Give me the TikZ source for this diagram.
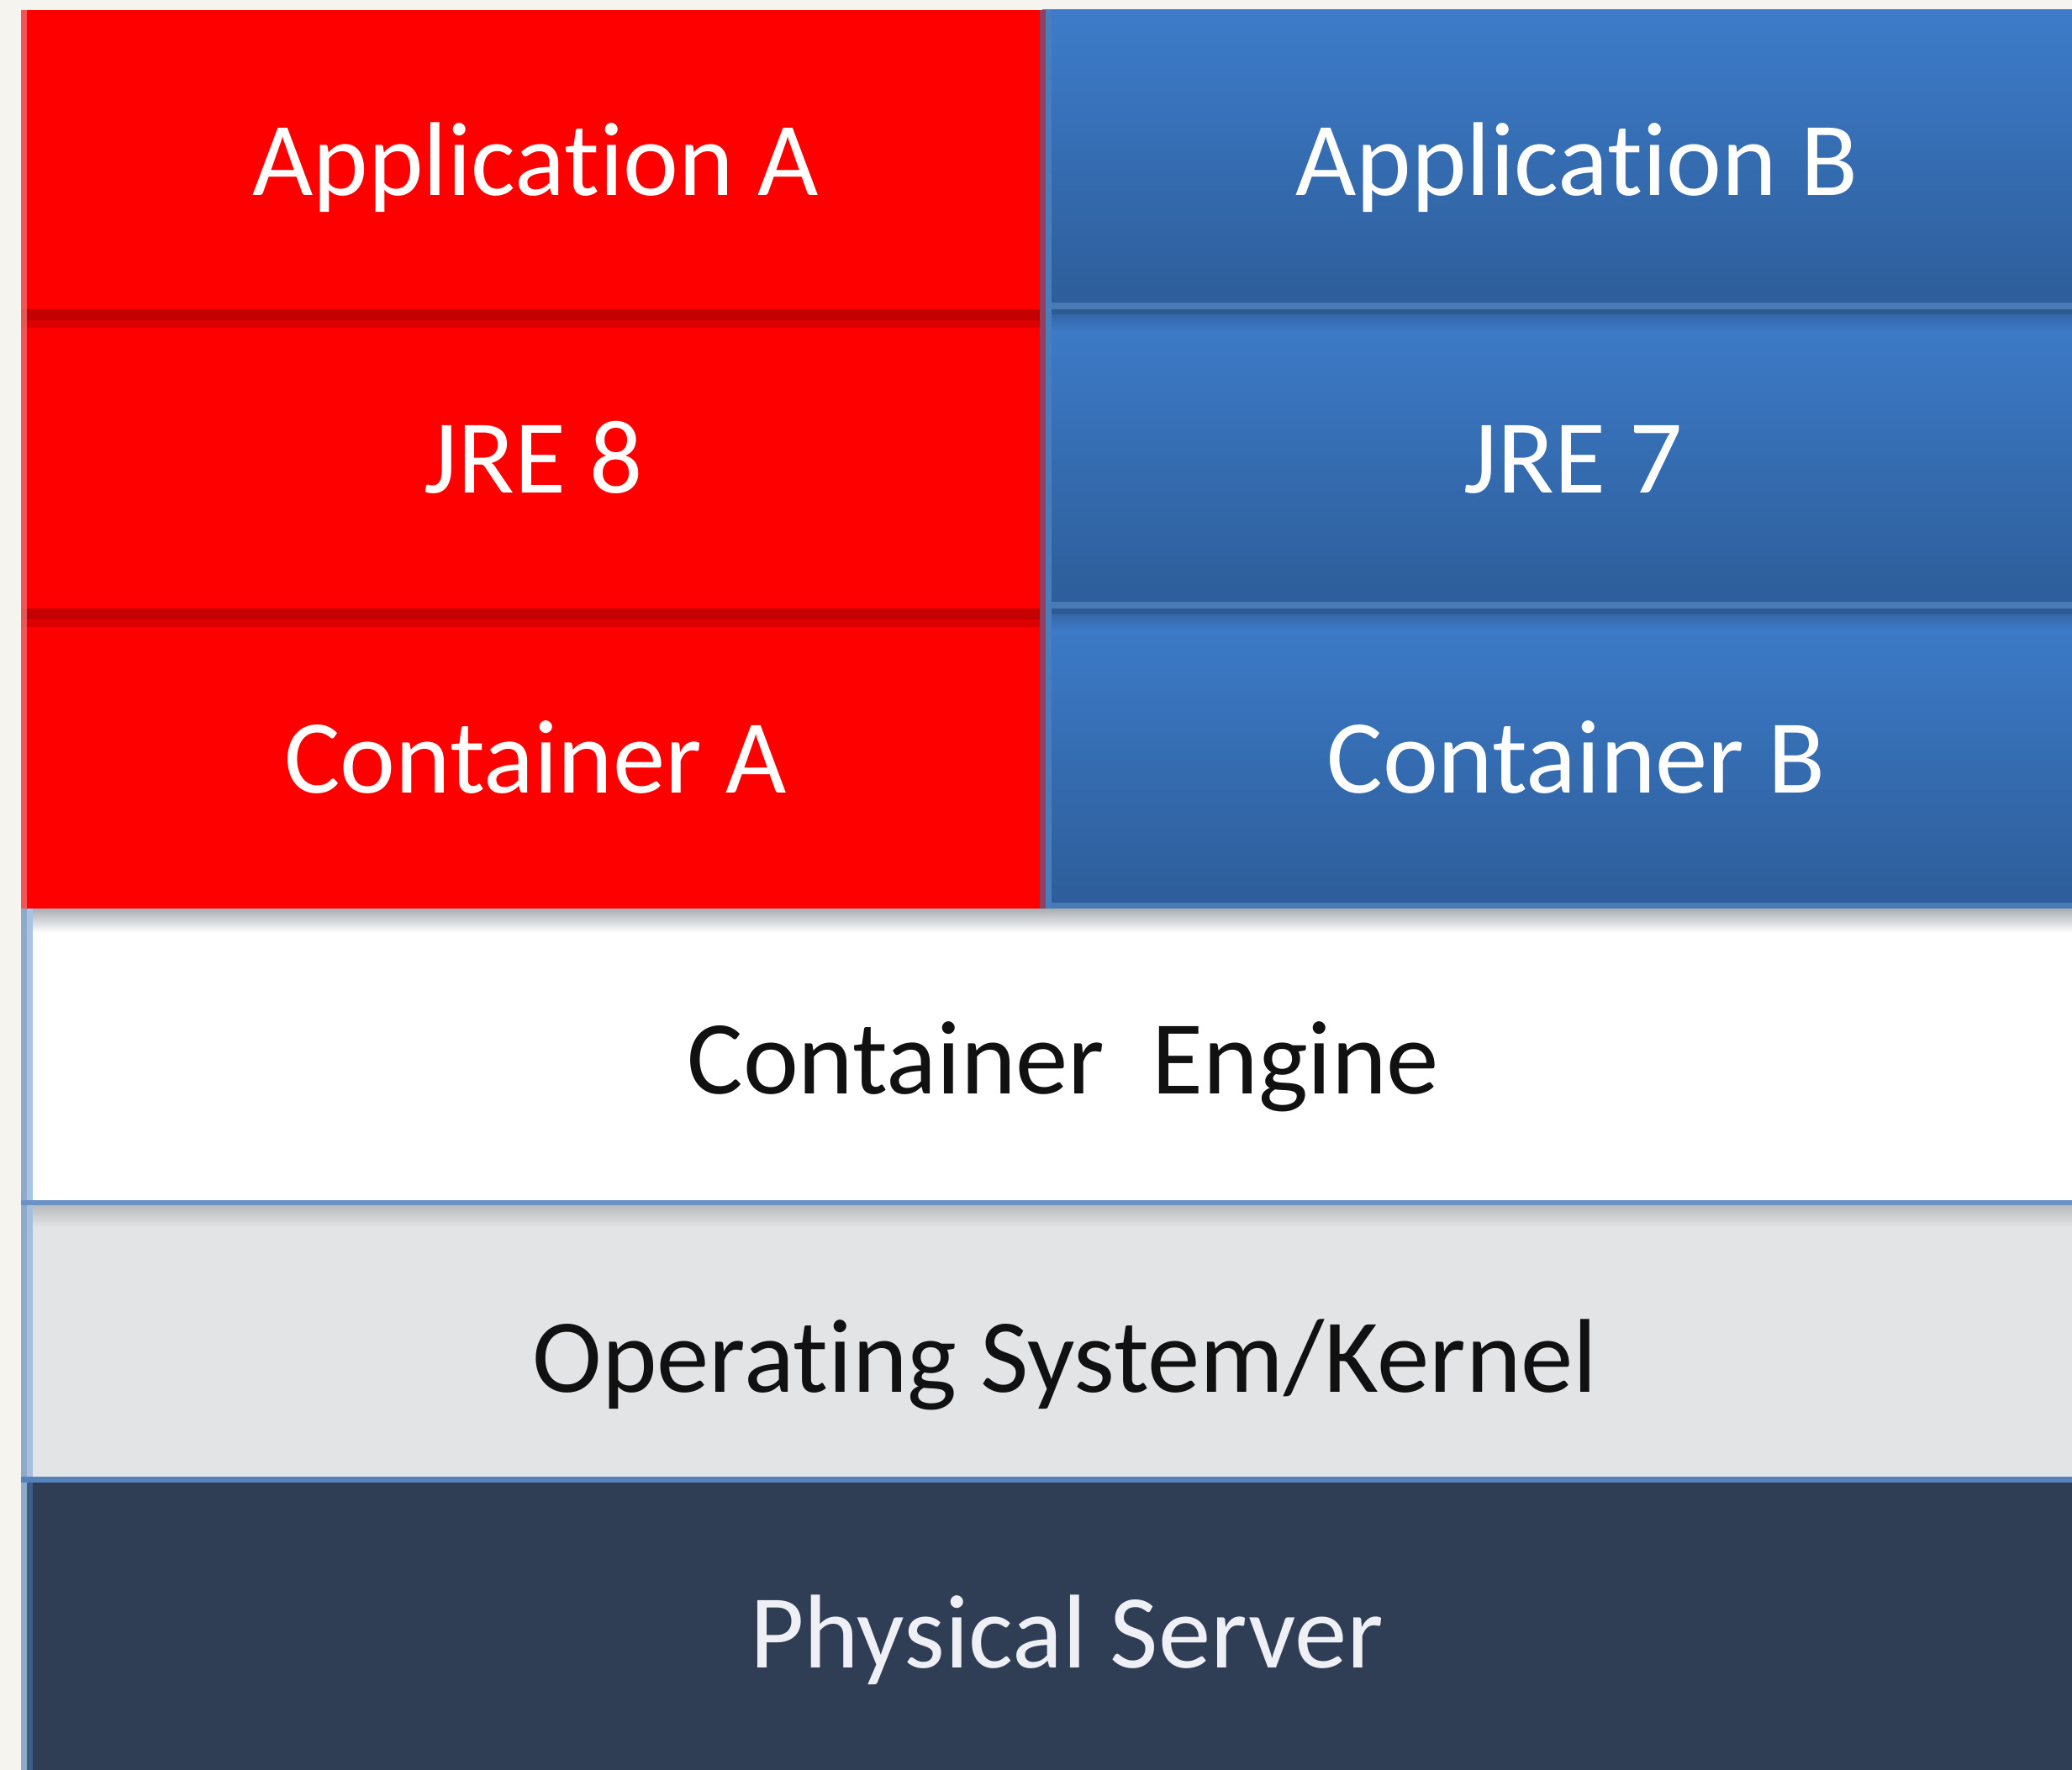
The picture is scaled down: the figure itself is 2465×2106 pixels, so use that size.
\documentclass[tikz,border=0pt]{standalone}
\usepackage{fontspec}
\setmainfont{Carlito}[Ligatures={NoCommon}]
\definecolor{bgc}{HTML}{F5F4EF}
\definecolor{appred}{HTML}{FF0000}
\definecolor{reddark}{HTML}{C40000}
\definecolor{redmid}{HTML}{DC0000}
\definecolor{redstrip}{HTML}{F06A6A}
\definecolor{bluetop}{HTML}{3D7CCA}
\definecolor{bluebot}{HTML}{2D5D99}
\definecolor{bluelight}{HTML}{4A7AB5}
\definecolor{bluedark}{HTML}{2D5A92}
\definecolor{bluemid}{HTML}{3568A8}
\definecolor{purpleline}{HTML}{8E4262}
\definecolor{vstrip}{HTML}{4A7DBB}
\definecolor{shadowgray}{HTML}{A9AEB4}
\definecolor{edgeblue}{HTML}{6A92C6}
\definecolor{edgeblue2}{HTML}{5483BC}
\definecolor{stripa}{HTML}{8FA9CB}
\definecolor{stripb}{HTML}{A8C4E4}
\definecolor{stripc}{HTML}{3D5C88}
\definecolor{osgray}{HTML}{E3E4E6}
\definecolor{osshadow}{HTML}{B9BABC}
\definecolor{server}{HTML}{2F3D55}
\definecolor{servertext}{HTML}{EEF0F5}
\definecolor{darktext}{HTML}{111111}
\begin{document}
\begin{tikzpicture}[x=0.01cm,y=-0.01cm,
  lbl/.style={anchor=base,inner sep=0pt,font=\fontsize{35.5}{40}\selectfont},
  wlbl/.style={lbl,text=white},
  blbl/.style={lbl,text=darktext},
  bluerow/.style={top color=bluetop,bottom color=bluebot}]
\useasboundingbox (0,0) rectangle (2465,2106);
\clip (0,0) rectangle (2465,2106);
% background
\fill[bgc] (0,0) rectangle (2465,2106);
% red column
\fill[appred] (25,12) rectangle (1240,1081);
\foreach \y in {368,724}{
  \fill[reddark] (25,\y) rectangle (1240,\y+13);
  \fill[redmid] (25,\y+13) rectangle (1240,\y+22);
}
\fill[redstrip,opacity=0.8] (25,12) rectangle (32,1081);
% blue column rows
\fill[bluerow] (1240,12) rectangle (2520,368);
\fill[bluerow] (1240,368) rectangle (2520,724);
\fill[bluerow] (1240,724) rectangle (2520,1081);
\foreach \y in {368,724}{
  \fill[bluelight] (1240,\y-8) rectangle (2520,\y);
  \fill[bluedark] (1240,\y) rectangle (2520,\y+7);
  \fill[top color=bluemid,bottom color=bluetop] (1240,\y+7) rectangle (2520,\y+28);
}
\fill[bluelight] (1240,1074) rectangle (2520,1081);
% vertical boundary
\fill[purpleline] (1237,12) rectangle (1244,1081);
\fill[vstrip] (1244,12) rectangle (1251,1081);
% container engine
\fill[white] (25,1081) rectangle (2520,1433);
\fill[top color=shadowgray,bottom color=white] (25,1081) rectangle (2520,1110);
\fill[stripa] (25,1081) rectangle (32,1433);
\fill[stripb] (32,1081) rectangle (39,1433);
\fill[edgeblue] (25,1428) rectangle (2520,1434);
% operating system
\fill[osgray] (25,1434) rectangle (2520,1760);
\fill[top color=osshadow,bottom color=osgray] (25,1434) rectangle (2520,1460);
\fill[stripa] (25,1434) rectangle (32,1760);
\fill[stripb!85!stripa] (32,1434) rectangle (39,1760);
\fill[edgeblue2] (25,1757) rectangle (2520,1764);
% physical server
\fill[server] (25,1764) rectangle (2520,2120);
\fill[stripa] (25,1764) rectangle (32,2120);
\fill[stripc] (32,1764) rectangle (39,2120);
% labels
\node[wlbl] (appA) at (637,233) {Application A};
\node[wlbl] (appB) at (1876,233) {Application B};
\node[wlbl] (jreA) at (635,587) {JRE 8};
\node[wlbl] (jreB) at (1872,587) {JRE 7};
\node[wlbl] (conA) at (637,943) {Container A};
\node[wlbl] (conB) at (1875,943) {Container B};
\node[blbl] (engine) at (1265,1301) {Container\ \ Engine};
\node[blbl] (os) at (1267,1656) {Operating System/Kernel};
\node[lbl,text=servertext] (server) at (1269,1984) {Physical Server};
\end{tikzpicture}
\end{document}
